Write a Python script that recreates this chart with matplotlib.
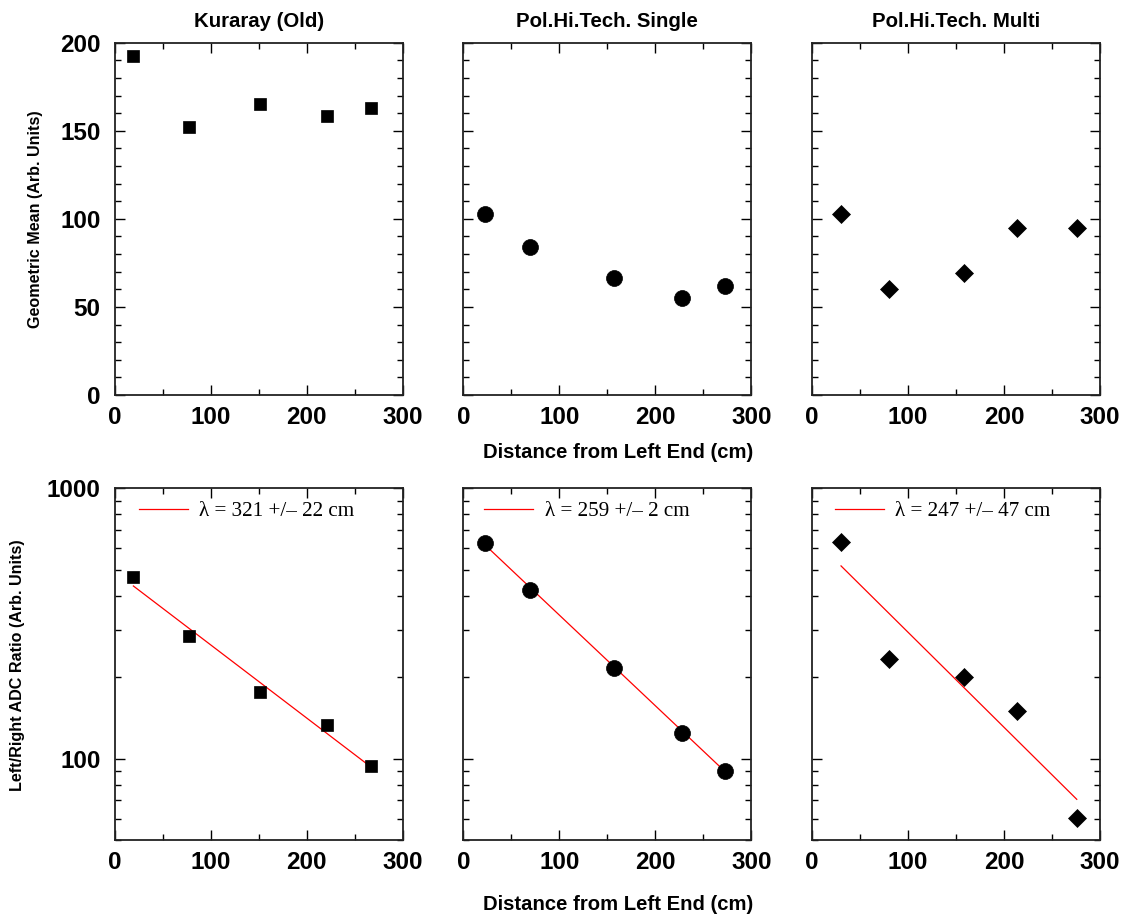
import numpy as np
import matplotlib
matplotlib.use("Agg")
import matplotlib.pyplot as plt
from matplotlib.ticker import MultipleLocator, LogLocator, NullFormatter, FuncFormatter

plt.rcParams['font.family'] = ['Liberation Sans', 'DejaVu Sans']

titles = ["Kuraray (Old)", "Pol.Hi.Tech. Single", "Pol.Hi.Tech. Multi"]
markers = ["s", "o", "D"]
msizes = [9.0, 11.5, 9.2]

# distances (cm)
x_kur = [19.6, 78.0, 151.8, 221.4, 267.3]
x_sgl = [22.6, 69.4, 156.4, 227.8, 272.2]
x_mul = [30.2, 80.2, 158.6, 213.5, 275.7]

# geometric mean (arb. units)
gm_kur = [192.6, 152.1, 165.0, 158.6, 162.8]
gm_sgl = [102.9, 84.0, 66.6, 55.2, 62.0]
gm_mul = [102.9, 60.2, 69.4, 95.0, 95.0]

# left/right ADC ratio (arb. units)
lr_kur = [469, 284, 176, 133, 93.6]
lr_sgl = [629, 420, 217, 124, 89.7]
lr_mul = [631, 234, 200, 150, 60.1]

# exponential fit: ratio = A * exp(-2 x / lambda)
fit_amp = [491.5, 734.6, 659.0]
fit_lambda = [321, 259, 247]
fit_err = [22, 2, 47]

xs = [x_kur, x_sgl, x_mul]
gms = [gm_kur, gm_sgl, gm_mul]
lrs = [lr_kur, lr_sgl, lr_mul]

fig = plt.figure(figsize=(11.23, 9.15), dpi=100)

lefts = [0.102, 0.4126, 0.7231]
w = 0.2565
top_b, top_h = 0.5683, 0.385
bot_b, bot_h = 0.082, 0.3844
leg_x = [0.085, 0.073, 0.080]

def style_axis(ax):
    for s in ax.spines.values():
        s.set_linewidth(1.3)
        s.set_color('#222222')
    ax.tick_params(which='both', direction='in', top=True, right=True, colors='black')
    ax.tick_params(which='major', length=7, width=1.0, labelsize=17.5)
    ax.tick_params(axis='x', which='major', pad=8)
    ax.tick_params(axis='y', which='major', pad=10)
    ax.tick_params(which='minor', length=4, width=1.0)
    ax.xaxis.set_major_locator(MultipleLocator(100))
    ax.xaxis.set_minor_locator(MultipleLocator(50))
    ax.set_xlim(0, 300)

for i in range(3):
    # top row
    ax = fig.add_axes([lefts[i], top_b, w, top_h])
    ax.plot(xs[i], gms[i], linestyle='none', marker=markers[i], markersize=msizes[i],
            color='black', markeredgewidth=0.5)
    ax.set_ylim(0, 200)
    ax.yaxis.set_major_locator(MultipleLocator(50))
    ax.yaxis.set_minor_locator(MultipleLocator(10))
    style_axis(ax)
    ax.set_title(titles[i], fontsize=14.7, fontweight='bold', pad=11.5)
    if i > 0:
        ax.set_yticklabels([])
    for lab in ax.get_xticklabels() + ax.get_yticklabels():
        lab.set_fontweight('bold')

    # bottom row
    ax2 = fig.add_axes([lefts[i], bot_b, w, bot_h])
    ax2.set_yscale('log')
    ax2.plot(xs[i], lrs[i], linestyle='none', marker=markers[i], markersize=msizes[i],
             color='black', markeredgewidth=0.5, zorder=3)
    xf = np.linspace(xs[i][0], xs[i][-1], 50)
    yf = fit_amp[i] * np.exp(-2 * xf / fit_lambda[i])
    ax2.plot(xf, yf, color='red', linewidth=0.9, zorder=2,
             label="\u03bb = %d +/\u2013 %d cm" % (fit_lambda[i], fit_err[i]))
    ax2.set_ylim(50, 1000)
    ax2.yaxis.set_major_locator(LogLocator(base=10))
    ax2.yaxis.set_minor_locator(LogLocator(base=10, subs=np.arange(2, 10)))
    ax2.yaxis.set_major_formatter(FuncFormatter(lambda v, p: "%d" % v))
    ax2.yaxis.set_minor_formatter(NullFormatter())
    style_axis(ax2)
    if i > 0:
        ax2.set_yticklabels([])
    for lab in ax2.get_xticklabels() + ax2.get_yticklabels():
        lab.set_fontweight('bold')
    ax2.legend(loc='center left', bbox_to_anchor=(leg_x[i], 0.935), frameon=False,
               borderpad=0, borderaxespad=0, handlelength=2.3, handletextpad=0.55,
               prop={'family': 'Liberation Serif', 'size': 15.2})

fig.text(0.5508, 0.506, "Distance from Left End (cm)", ha='center', va='center',
         fontsize=14.6, fontweight='bold')
fig.text(0.5508, 0.011, "Distance from Left End (cm)", ha='center', va='center',
         fontsize=14.6, fontweight='bold')
fig.text(0.032, 0.7607, "Geometric Mean (Arb. Units)", ha='center', va='center',
         rotation=90, fontsize=11.6, fontweight='bold')
fig.text(0.016, 0.273, "Left/Right ADC Ratio (Arb. Units)", ha='center', va='center',
         rotation=90, fontsize=11.6, fontweight='bold')

fig.savefig("out.png", dpi=100)
